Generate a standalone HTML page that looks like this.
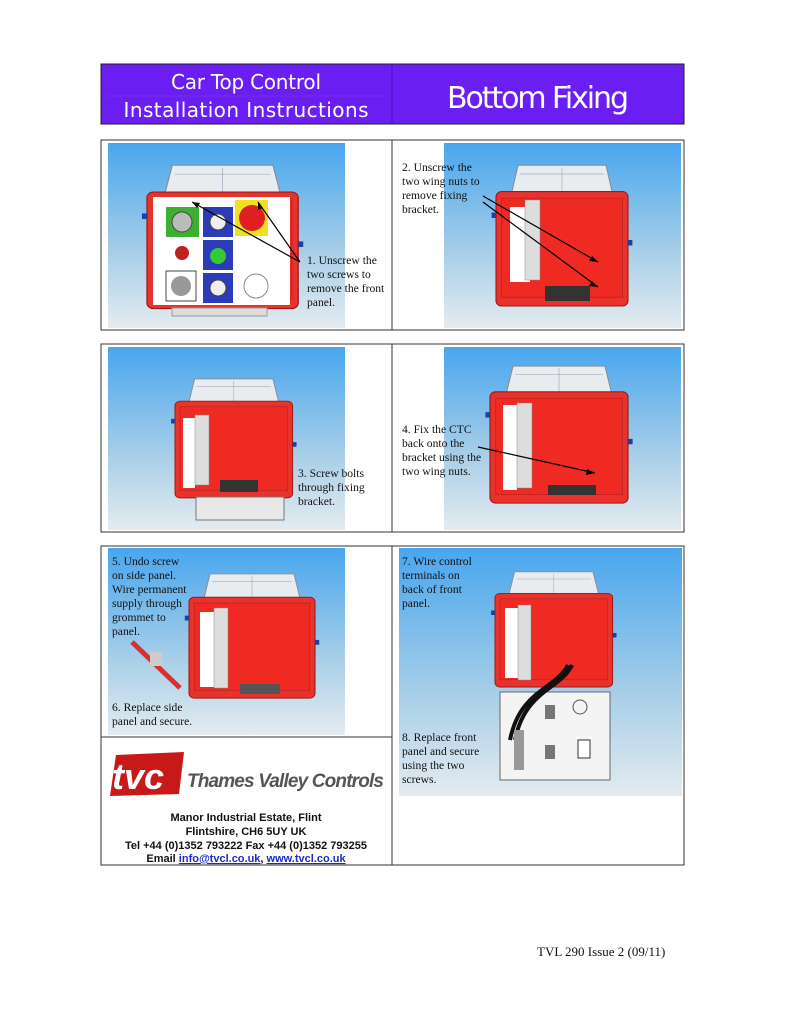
<!DOCTYPE html>
<html><head><meta charset="utf-8"><style>
html,body{margin:0;padding:0;background:#fff;}
svg{display:block}
.t{font-family:"Liberation Serif",serif;font-size:11.6px;fill:#111}
</style></head><body>
<svg width="791" height="1024" viewBox="0 0 791 1024" xmlns="http://www.w3.org/2000/svg">
<defs>
<linearGradient id="sky" x1="0" y1="0" x2="0" y2="1">
<stop offset="0" stop-color="#48a6ee"/><stop offset="0.6" stop-color="#a9cfe8"/><stop offset="1" stop-color="#e4ebf0"/>
</linearGradient>
<g id="ctc">
<path d="M14 28 L20 2 L100 2 L106 28 Z" fill="#e8ecef" stroke="#8a8f94" stroke-width="1"/>
<line x1="22" y1="10" x2="98" y2="10" stroke="#aab" stroke-width="0.6"/>
<line x1="60" y1="4" x2="60" y2="26" stroke="#aab" stroke-width="0.6"/>
<rect x="0" y="26" width="120" height="104" rx="5" fill="#e8322c" stroke="#a01818" stroke-width="1"/>
<rect x="5" y="32" width="110" height="90" fill="#ee2a22" stroke="#b42020" stroke-width="0.6"/>
<rect x="-4" y="45" width="4" height="5" fill="#2040a0"/><rect x="120" y="70" width="4" height="5" fill="#2040a0"/>
</g>
</defs>

<!-- header -->
<rect x="101" y="64" width="583" height="60" fill="#6b1ef2" stroke="#222" stroke-width="1"/>
<line x1="392" y1="64" x2="392" y2="124" stroke="#5010c0" stroke-width="1"/>
<line x1="106" y1="96" x2="388" y2="96" stroke="#7c3af4" stroke-width="0.6"/>
<text x="246" y="89" text-anchor="middle" font-family="DejaVu Sans, sans-serif" font-size="20" fill="#fff" textLength="150">Car Top Control</text>
<text x="246" y="117" text-anchor="middle" font-family="DejaVu Sans, sans-serif" font-size="20" fill="#fff" textLength="245">Installation Instructions</text>
<text x="538" y="108" text-anchor="middle" font-family="DejaVu Sans, sans-serif" font-size="30" fill="#fff" textLength="182">Bottom Fixing</text>

<!-- row1 -->
<rect x="101" y="140" width="583" height="190" fill="#fff" stroke="#333" stroke-width="1"/>
<line x1="392" y1="140" x2="392" y2="330" stroke="#333"/>
<rect x="108" y="143" width="237" height="185" fill="url(#sky)"/>
<rect x="444" y="143" width="237" height="185" fill="url(#sky)"/>
<use href="#ctc" transform="translate(147,163) scale(1.26,1.12)"/>
<rect x="153" y="197" width="137" height="108" fill="#fff"/>
<rect x="166" y="207" width="33" height="30" fill="#3cb030"/><circle cx="182" cy="222" r="10" fill="#bbb" stroke="#444"/>
<rect x="203" y="207" width="30" height="30" fill="#2a3cb8"/><circle cx="218" cy="222" r="8" fill="#eee" stroke="#444"/>
<rect x="203" y="240" width="30" height="30" fill="#2a3cb8"/><circle cx="218" cy="256" r="8" fill="#3c3"/>
<rect x="203" y="273" width="30" height="30" fill="#2a3cb8"/><circle cx="218" cy="288" r="8" fill="#eee" stroke="#444"/>
<rect x="235" y="200" width="33" height="36" fill="#f0e020"/><circle cx="252" cy="218" r="13" fill="#e02020"/>
<rect x="166" y="271" width="30" height="30" fill="#fff" stroke="#444"/><circle cx="181" cy="286" r="10" fill="#999"/>
<circle cx="182" cy="253" r="7" fill="#c02020"/>
<circle cx="256" cy="286" r="12" fill="#fff" stroke="#888"/>
<rect x="172" y="308" width="95" height="8" fill="#ddd" stroke="#999"/>
<path d="M300 262 L192 202 M300 262 L258 202" stroke="#000" stroke-width="1.2" fill="none"/>
<path d="M192 202 l8 1 l-3 5 Z M258 202 l5 6 l-5 2 Z" fill="#000"/>
<text class="t"><tspan x="307" y="264">1. Unscrew the</tspan><tspan x="307" y="278">two screws to</tspan><tspan x="307" y="292">remove the front</tspan><tspan x="307" y="306">panel.</tspan></text>

<use href="#ctc" transform="translate(496,163) scale(1.1,1.1)"/>
<rect x="510" y="207" width="20" height="75" fill="#fff"/><rect x="525" y="200" width="15" height="80" fill="#ddd" stroke="#888" stroke-width="0.5"/>
<rect x="545" y="286" width="45" height="15" fill="#333"/>
<path d="M483 196 L598 262 M483 202 L598 287" stroke="#000" stroke-width="1.2"/>
<path d="M598 262 l-9 -1 l3 -5 Z M598 287 l-9 -1 l3 -5 Z" fill="#000"/>
<text class="t"><tspan x="402" y="171">2. Unscrew the</tspan><tspan x="402" y="185">two wing nuts to</tspan><tspan x="402" y="199">remove fixing</tspan><tspan x="402" y="213">bracket.</tspan></text>

<!-- row2 -->
<rect x="101" y="344" width="583" height="188" fill="#fff" stroke="#333" stroke-width="1"/>
<line x1="392" y1="344" x2="392" y2="532" stroke="#333"/>
<rect x="108" y="347" width="237" height="183" fill="url(#sky)"/>
<rect x="444" y="347" width="237" height="183" fill="url(#sky)"/>
<use href="#ctc" transform="translate(175,377) scale(0.98,0.93)"/>
<rect x="183" y="418" width="12" height="70" fill="#fff"/><rect x="195" y="415" width="14" height="70" fill="#ddd" stroke="#888" stroke-width="0.5"/>
<rect x="220" y="480" width="38" height="12" fill="#333"/>
<rect x="196" y="497" width="88" height="23" fill="#e8e8e8" stroke="#777"/>
<text class="t"><tspan x="298" y="477">3. Screw bolts</tspan><tspan x="298" y="491">through fixing</tspan><tspan x="298" y="505">bracket.</tspan></text>
<use href="#ctc" transform="translate(490,364) scale(1.15,1.07)"/>
<rect x="503" y="405" width="14" height="85" fill="#fff"/><rect x="517" y="403" width="15" height="85" fill="#ddd" stroke="#888" stroke-width="0.5"/>
<rect x="548" y="485" width="48" height="10" fill="#333"/>
<path d="M478 447 L595 473" stroke="#000" stroke-width="1.2"/><path d="M595 473 l-9 2 l1 -6 Z" fill="#000"/>
<text class="t"><tspan x="402" y="433">4. Fix the CTC</tspan><tspan x="402" y="447">back onto the</tspan><tspan x="402" y="461">bracket using the</tspan><tspan x="402" y="475">two wing nuts.</tspan></text>

<!-- row3 -->
<rect x="101" y="546" width="583" height="319" fill="#fff" stroke="#333" stroke-width="1"/>
<line x1="392" y1="546" x2="392" y2="865" stroke="#333"/>
<line x1="101" y1="737" x2="392" y2="737" stroke="#333"/>
<rect x="108" y="548" width="237" height="187" fill="url(#sky)"/>
<rect x="399" y="548" width="283" height="248" fill="url(#sky)"/>
<use href="#ctc" transform="translate(189,572) scale(1.05,0.97)"/>
<rect x="200" y="612" width="14" height="75" fill="#fff"/><rect x="214" y="608" width="14" height="80" fill="#ddd" stroke="#888" stroke-width="0.5"/>
<rect x="240" y="684" width="40" height="10" fill="#555"/>
<path d="M132 642 L180 688" stroke="#d83030" stroke-width="5"/><rect x="150" y="652" width="12" height="14" fill="#ccc"/>
<text class="t"><tspan x="112" y="565">5. Undo screw</tspan><tspan x="112" y="579">on side panel.</tspan><tspan x="112" y="593">Wire permanent</tspan><tspan x="112" y="607">supply through</tspan><tspan x="112" y="621">grommet to</tspan><tspan x="112" y="635">panel.</tspan></text>
<text class="t"><tspan x="112" y="711">6. Replace side</tspan><tspan x="112" y="725">panel and secure.</tspan></text>
<use href="#ctc" transform="translate(495,570) scale(0.98,0.9)"/>
<rect x="505" y="608" width="14" height="70" fill="#fff"/><rect x="518" y="605" width="13" height="75" fill="#ddd" stroke="#888" stroke-width="0.5"/>
<rect x="500" y="692" width="110" height="88" fill="#f4f4f4" stroke="#666"/>
<path d="M572 665 C560 690 525 690 515 740 M568 665 C555 690 520 690 510 740" stroke="#111" stroke-width="4" fill="none"/>
<rect x="514" y="730" width="10" height="40" fill="#999"/><rect x="545" y="705" width="10" height="14" fill="#777"/><rect x="545" y="745" width="10" height="14" fill="#777"/><rect x="578" y="740" width="12" height="18" fill="#fff" stroke="#333"/>
<circle cx="580" cy="707" r="7" fill="none" stroke="#555"/>
<text class="t"><tspan x="402" y="565">7. Wire control</tspan><tspan x="402" y="579">terminals on</tspan><tspan x="402" y="593">back of front</tspan><tspan x="402" y="607">panel.</tspan></text>
<text class="t"><tspan x="402" y="741">8. Replace front</tspan><tspan x="402" y="755">panel and secure</tspan><tspan x="402" y="769">using the two</tspan><tspan x="402" y="783">screws.</tspan></text>

<!-- logo -->
<path d="M116 755 L184 752 L179 794 L110 796 Z" fill="#c81818"/>
<text x="112" y="789" font-family="Liberation Sans, sans-serif" font-weight="bold" font-style="italic" font-size="36" fill="#fff">tvc</text>
<text x="187" y="787" font-family="Liberation Sans, sans-serif" font-weight="bold" font-style="italic" font-size="19" fill="#555" textLength="197">Thames Valley Controls</text>
<g font-family="Liberation Sans, sans-serif" font-size="11" font-weight="bold" fill="#111" text-anchor="middle">
<text x="246" y="821">Manor Industrial Estate, Flint</text>
<text x="246" y="835">Flintshire, CH6 5UY  UK</text>
<text x="246" y="849">Tel +44 (0)1352 793222  Fax +44 (0)1352 793255</text>
<text x="246" y="862">Email  <tspan fill="#1a2ad0" text-decoration="underline">info@tvcl.co.uk</tspan>, <tspan fill="#1a2ad0" text-decoration="underline">www.tvcl.co.uk</tspan></text>
</g>

<text x="537" y="956" font-family="Liberation Serif, serif" font-size="13" fill="#111">TVL 290 Issue 2 (09/11)</text>
</svg>
</body></html>
